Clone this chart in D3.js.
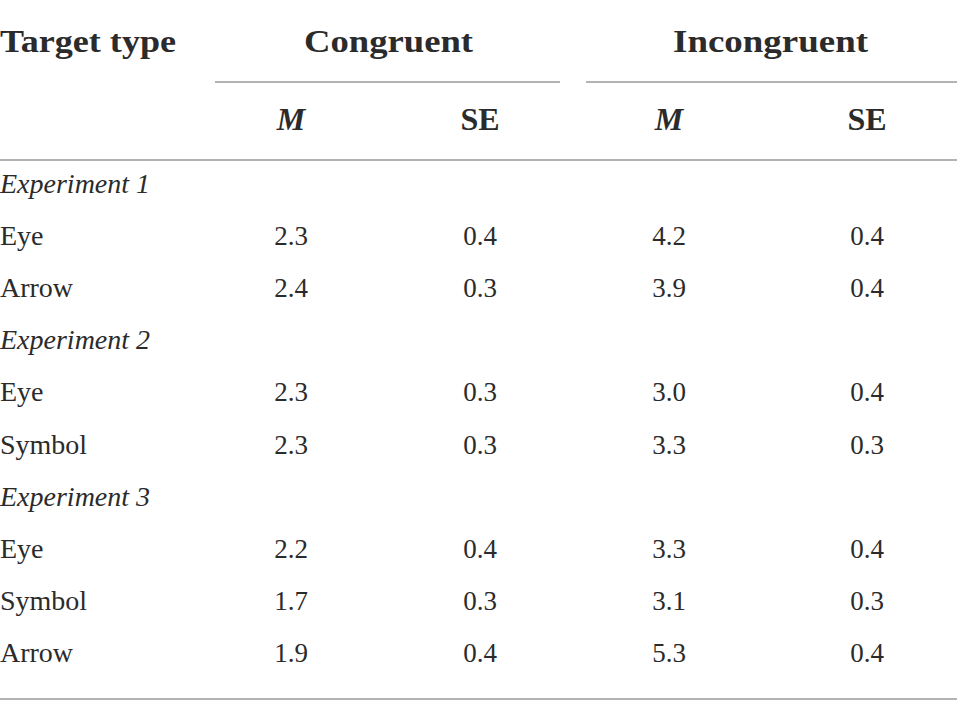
<!DOCTYPE html>
<html>
<head>
<meta charset="utf-8">
<script src="https://cdn.jsdelivr.net/npm/d3@7"></script>
<style>
  html, body { margin: 0; padding: 0; background: #fff; }
  svg { display: block; }
  text { font-family: "Liberation Serif", "Times New Roman", serif; }
</style>
</head>
<body>
<svg id="table"></svg>
<script>
// table contents
const groups = ['Congruent', 'Incongruent'];
const subHeads = ['M', 'SE', 'M', 'SE'];
const rowLabels = ['Experiment 1', 'Eye', 'Arrow', 'Experiment 2', 'Eye', 'Symbol',
  'Experiment 3', 'Eye', 'Symbol', 'Arrow'];
const sectionRow = [true, false, false, true, false, false, true, false, false, false];
const congruentM = [null, '2.3', '2.4', null, '2.3', '2.3', null, '2.2', '1.7', '1.9'];
const congruentSE = [null, '0.4', '0.3', null, '0.3', '0.3', null, '0.4', '0.3', '0.4'];
const incongruentM = [null, '4.2', '3.9', null, '3.0', '3.3', null, '3.3', '3.1', '5.3'];
const incongruentSE = [null, '0.4', '0.4', null, '0.4', '0.3', null, '0.4', '0.3', '0.4'];

const width = 957, height = 718;

const svg = d3.select('#table')
    .attr('width', width)
    .attr('height', height);

// column centres and row baselines
const x = d3.scaleOrdinal()
    .domain(d3.range(4))
    .range([291, 480, 669, 867]);

const y = d3.scalePoint()
    .domain(d3.range(rowLabels.length))
    .range([193, 662]);

const ruleColor = '#9a9a9a',
      textColor = '#2b2b2b';

// top header
svg.append('text')
    .attr('x', 0)
    .attr('y', 52)
    .attr('font-size', 31)
    .attr('font-weight', 'bold')
    .attr('fill', textColor)
    .attr('textLength', 176)
    .attr('lengthAdjust', 'spacingAndGlyphs')
    .text('Target type');

const groupSpan = [[215, 560], [586, 957]];
const groupWidth = [169, 195];

svg.selectAll('.group-head')
  .data(groups)
  .enter().append('text')
    .attr('class', 'group-head')
    .attr('x', (d, i) => (groupSpan[i][0] + groupSpan[i][1]) / 2 - groupWidth[i] / 2 + (i ? -1 : 1))
    .attr('y', 52)
    .attr('font-size', 31)
    .attr('font-weight', 'bold')
    .attr('fill', textColor)
    .attr('textLength', (d, i) => groupWidth[i])
    .attr('lengthAdjust', 'spacingAndGlyphs')
    .text(d => d);

svg.selectAll('.group-rule')
  .data(groupSpan)
  .enter().append('line')
    .attr('class', 'group-rule')
    .attr('x1', d => d[0])
    .attr('x2', d => d[1])
    .attr('y1', 82)
    .attr('y2', 82)
    .attr('stroke', ruleColor)
    .attr('stroke-width', 1.6);

// sub header (M italic, SE upright)
svg.selectAll('.sub-head')
  .data(subHeads)
  .enter().append('text')
    .attr('class', 'sub-head')
    .attr('x', (d, i) => x(i))
    .attr('y', 130)
    .attr('text-anchor', 'middle')
    .attr('font-size', 32)
    .attr('font-weight', 'bold')
    .attr('font-style', d => d === 'M' ? 'italic' : 'normal')
    .attr('fill', textColor)
    .text(d => d);

// horizontal rules
[160, 699].forEach(yy => {
  svg.append('line')
      .attr('x1', 0)
      .attr('x2', width)
      .attr('y1', yy)
      .attr('y2', yy)
      .attr('stroke', ruleColor)
      .attr('stroke-width', 1.6);
});

// body rows
const columns = [congruentM, congruentSE, incongruentM, incongruentSE];

const rows = svg.selectAll('.row')
  .data(rowLabels.map((label, i) => ({label, i, section: sectionRow[i]})))
  .enter().append('g')
    .attr('class', 'row')
    .attr('transform', d => `translate(0, ${y(d.i)})`);

rows.append('text')
    .attr('x', 0)
    .attr('font-size', 28)
    .attr('font-style', d => d.section ? 'italic' : 'normal')
    .attr('fill', textColor)
    .text(d => d.label);

rows.selectAll('.cell')
  .data(d => columns.map((col, c) => ({c, v: col[d.i]})).filter(e => e.v != null))
  .enter().append('text')
    .attr('class', 'cell')
    .attr('x', d => x(d.c))
    .attr('text-anchor', 'middle')
    .attr('font-size', 27)
    .attr('fill', textColor)
    .text(d => d.v);
</script>
</body>
</html>
